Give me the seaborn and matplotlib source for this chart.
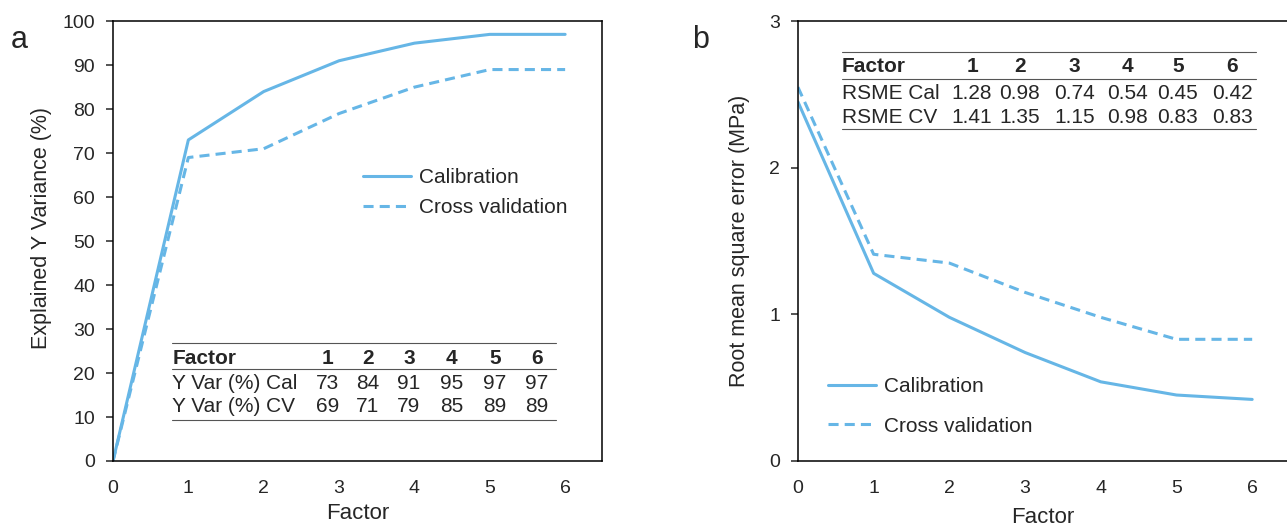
import matplotlib
matplotlib.use("Agg")
import matplotlib.pyplot as plt
import pandas as pd
import seaborn as sns

# data
factors = [0, 1, 2, 3, 4, 5, 6]
yvar_cal = [0, 73, 84, 91, 95, 97, 97]
yvar_cv = [0, 69, 71, 79, 85, 89, 89]
rmse_cal = [2.45, 1.28, 0.98, 0.74, 0.54, 0.45, 0.42]
rmse_cv = [2.55, 1.41, 1.35, 1.15, 0.98, 0.83, 0.83]

table_cols = ["1", "2", "3", "4", "5", "6"]
table_a_rows = ["Y Var (%) Cal", "Y Var (%) CV"]
table_a_vals = [["73", "84", "91", "95", "97", "97"], ["69", "71", "79", "85", "89", "89"]]
table_b_rows = ["RSME Cal", "RSME CV"]
table_b_vals = [["1.28", "0.98", "0.74", "0.54", "0.45", "0.42"],
                ["1.41", "1.35", "1.15", "0.98", "0.83", "0.83"]]

LINE_COLOR = "#66B6E6"
LW = 2.2
TABLE_FS = 15

sns.set_theme(style="ticks")
plt.rcParams["font.family"] = ["Liberation Sans", "DejaVu Sans"]
plt.rcParams["axes.edgecolor"] = "black"
plt.rcParams["axes.linewidth"] = 1.1


def long_frame(cal, cv):
    return pd.DataFrame({
        "Factor": factors * 2,
        "value": cal + cv,
        "series": ["Calibration"] * len(factors) + ["Cross validation"] * len(factors),
    })


def draw_lines(ax, df):
    sns.lineplot(data=df, x="Factor", y="value", hue="series", style="series",
                 palette=[LINE_COLOR, LINE_COLOR],
                 dashes={"Calibration": "", "Cross validation": (3.3, 2.0)},
                 linewidth=LW, ax=ax, legend=True)


def draw_table(ax, row_names, values, col_x, rule_x, rule_y, row_y):
    for y in rule_y:
        ax.plot(rule_x, [y, y], color="#555555", lw=0.8, transform=ax.transAxes, clip_on=False)
    ax.text(rule_x[0], row_y[0], "Factor", fontsize=TABLE_FS, fontweight="bold",
            ha="left", va="center", transform=ax.transAxes)
    for x, c in zip(col_x, table_cols):
        ax.text(x, row_y[0], c, fontsize=TABLE_FS, fontweight="bold", ha="center", va="center",
                transform=ax.transAxes)
    for i, name in enumerate(row_names):
        ax.text(rule_x[0], row_y[i + 1], name, fontsize=TABLE_FS, ha="left", va="center",
                transform=ax.transAxes)
        for x, v in zip(col_x, values[i]):
            ax.text(x, row_y[i + 1], v, fontsize=TABLE_FS, ha="center", va="center",
                    transform=ax.transAxes)


def style_axes(ax, xlabelpad):
    ax.tick_params(axis="y", direction="out", length=5, width=1.1, pad=8, labelsize=14)
    ax.tick_params(axis="x", length=0, pad=14, labelsize=14)
    ax.set_xlabel("Factor", fontsize=16, labelpad=xlabelpad)
    ax.set_xticks(factors)


fig = plt.figure(figsize=(12.87, 5.28), dpi=100)
ax_a = fig.add_axes([0.0878, 0.1269, 0.38, 0.833])
ax_b = fig.add_axes([0.620, 0.1269, 0.38, 0.833])

# panel a
draw_lines(ax_a, long_frame(yvar_cal, yvar_cv))
ax_a.set_xlim(0, 6.49)
ax_a.set_ylim(0, 100)
ax_a.set_yticks(range(0, 101, 10))
style_axes(ax_a, 4)
ax_a.set_ylabel("Explained Y Variance (%)", fontsize=15.5)
ax_a.yaxis.set_label_coords(-0.125, 0.53)
ax_a.legend(loc="upper left", bbox_to_anchor=(0.49, 0.69), frameon=False, fontsize=15,
            handlelength=2.3, handletextpad=0.4, labelspacing=0.55, borderpad=0)
draw_table(ax_a, table_a_rows, table_a_vals,
           col_x=[0.438, 0.521, 0.605, 0.693, 0.781, 0.867],
           rule_x=[0.121, 0.906], rule_y=[0.268, 0.209, 0.093],
           row_y=[0.234, 0.177, 0.123])
fig.text(0.008, 0.91, "a", fontsize=22)

# panel b
draw_lines(ax_b, long_frame(rmse_cal, rmse_cv))
ax_b.set_xlim(0, 6.46)
ax_b.set_ylim(0, 3)
ax_b.set_yticks([0, 1, 2, 3])
ax_b.spines["right"].set_visible(False)
style_axes(ax_b, 7)
ax_b.set_ylabel("Root mean square error (MPa)", fontsize=15.5, labelpad=14)
ax_b.legend(loc="upper left", bbox_to_anchor=(0.04, 0.215), frameon=False, fontsize=15,
            handlelength=2.3, handletextpad=0.4, labelspacing=1.0, borderpad=0)
draw_table(ax_b, table_b_rows, table_b_vals,
           col_x=[0.356, 0.454, 0.566, 0.673, 0.777, 0.888],
           rule_x=[0.090, 0.937], rule_y=[0.930, 0.868, 0.755],
           row_y=[0.897, 0.836, 0.782])
fig.text(0.538, 0.91, "b", fontsize=22)

fig.savefig("out.png", dpi=100)
